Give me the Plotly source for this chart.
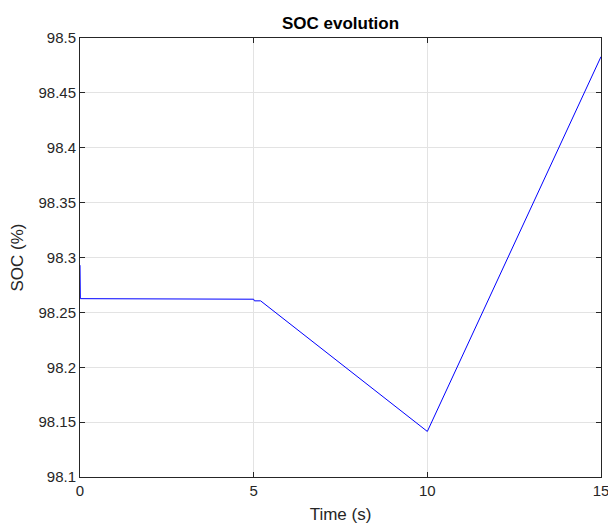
import plotly.graph_objects as go

# Data
time_s = [0.0, 0.01, 5.0, 5.02, 5.2, 10.0, 15.0]
soc_pct = [98.293, 98.2625, 98.262, 98.2605, 98.2605, 98.1415, 98.483]

x_ticks = [0, 5, 10, 15]
y_ticks = [98.1, 98.15, 98.2, 98.25, 98.3, 98.35, 98.4, 98.45, 98.5]
y_tick_text = ["98.1", "98.15", "98.2", "98.25", "98.3", "98.35", "98.4", "98.45", "98.5"]

FONT = "Liberation Sans, Arial, sans-serif"

fig = go.Figure()
fig.add_trace(go.Scatter(x=time_s, y=soc_pct, mode="lines",
                         line=dict(color="#0000ff", width=1), showlegend=False))

axis_common = dict(
    showline=True, linecolor="#262626", linewidth=1, mirror="ticks",
    ticks="inside", ticklen=5, tickcolor="#262626", tickwidth=1,
    showgrid=True, gridcolor="#e3e3e3", gridwidth=1, zeroline=False,
    tickfont=dict(family=FONT, size=15, color="#262626"),
    ticklabeloverflow="allow", automargin=False,
)

fig.update_layout(
    width=608, height=525,
    margin=dict(l=80, r=7, t=38, b=48),
    paper_bgcolor="white", plot_bgcolor="white",
    title=dict(text="<b>SOC evolution</b>", x=0.5, xref="paper", xanchor="center",
               y=1 - 23 / 525, yref="container", yanchor="middle",
               font=dict(family=FONT, size=17, color="black"), automargin=False),
    xaxis=dict(range=[0, 15], tickvals=x_ticks, ticktext=[str(v) for v in x_ticks],
               title=dict(text="Time (s)", standoff=10,
                          font=dict(family=FONT, size=17, color="#262626")),
               **axis_common),
    yaxis=dict(range=[98.1, 98.5], tickvals=y_ticks, ticktext=y_tick_text,
               title=dict(text="SOC (%)", standoff=10,
                          font=dict(family=FONT, size=17, color="#262626")),
               **axis_common),
)

fig.write_html("out.html")
